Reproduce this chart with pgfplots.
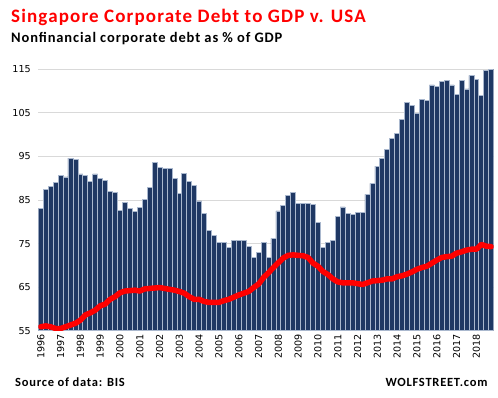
\documentclass[border=0pt]{standalone}
\usepackage{pgfplots}
\pgfplotsset{compat=1.18}
\usepackage{fontspec}
\setmainfont{Carlito}[LetterSpace=6]
\newfontfamily\dejavu{DejaVu Sans}
\definecolor{barblue}{RGB}{31,56,100}
\definecolor{baredge}{RGB}{170,184,206}
\definecolor{gridgray}{RGB}{217,217,217}
\begin{document}
\begin{tikzpicture}
\useasboundingbox (-38.3bp,-67.3bp) rectangle (459.7bp,330.7bp);
\begin{axis}[
  at={(0,0)}, anchor=south west,
  scale only axis,
  width=455.4bp, height=261.4bp,
  xmin=-0.5, xmax=91.5,
  ymin=55, ymax=115,
  ytick={55,65,75,85,95,105,115},
  xtick={0,4,...,88},
  xticklabels={1996,1997,1998,1999,2000,2001,2002,2003,2004,2005,2006,2007,2008,2009,2010,2011,2012,2013,2014,2015,2016,2017,2018},
  x tick label style={rotate=90, anchor=east, xshift=0bp, yshift=0bp},
  /pgf/number format/assume math mode=true,
  tick label style={font=\dejavu\fontsize{9.6bp}{11bp}\selectfont, color=black},
  yticklabel style={xshift=-4bp},
  major tick length=0pt,
  ymajorgrids, grid style={gridgray, line width=0.8bp},
  axis line style={draw=none},
  clip=true,
]
\addplot[ybar, bar width=1, fill=barblue, draw=baredge, line width=0.7bp] coordinates {
(0,83.1)(1,87.4)(2,88.1)(3,89.0)
(4,90.6)(5,90.3)(6,94.6)(7,94.3)
(8,91.0)(9,90.6)(10,89.2)(11,91.0)
(12,90.0)(13,89.4)(14,86.9)(15,86.7)
(16,82.7)(17,84.5)(18,83.1)(19,82.3)
(20,83.2)(21,85.1)(22,87.9)(23,93.6)
(24,92.5)(25,92.3)(26,92.3)(27,90.0)
(28,86.5)(29,91.1)(30,89.2)(31,88.3)
(32,84.8)(33,81.9)(34,78.0)(35,76.8)
(36,75.2)(37,75.2)(38,74.1)(39,75.7)
(40,75.7)(41,75.7)(42,74.3)(43,71.8)
(44,72.9)(45,75.2)(46,71.8)(47,76.2)
(48,82.5)(49,83.7)(50,86.0)(51,86.8)
(52,84.2)(53,84.2)(54,84.2)(55,84.0)
(56,79.8)(57,74.1)(58,75.2)(59,75.7)
(60,81.3)(61,83.4)(62,81.9)(63,81.7)
(64,82.2)(65,82.2)(66,86.3)(67,88.8)
(68,92.8)(69,94.6)(70,96.6)(71,99.1)
(72,100.3)(73,103.5)(74,107.4)(75,106.8)
(76,104.9)(77,108.1)(78,107.8)(79,111.4)
(80,111.0)(81,112.2)(82,112.4)(83,111.4)
(84,109.2)(85,112.4)(86,110.5)(87,113.6)
(88,112.7)(89,109.0)(90,114.7)(91,115.1)
};
\addplot[red, line width=5.5bp, line join=round, line cap=round, mark=none] coordinates {
(0,55.9)(1,56.1)(2,55.9)(3,55.5)
(4,55.5)(5,55.9)(6,56.3)(7,56.7)
(8,57.4)(9,58.6)(10,59.1)(11,59.7)
(12,60.7)(13,61.1)(14,62.2)(15,62.8)
(16,63.7)(17,64.1)(18,64.2)(19,64.3)
(20,64.1)(21,64.6)(22,64.7)(23,64.8)
(24,64.9)(25,64.7)(26,64.5)(27,64.3)
(28,64.0)(29,63.6)(30,62.8)(31,62.2)
(32,62.2)(33,61.7)(34,61.5)(35,61.5)
(36,61.5)(37,61.9)(38,62.2)(39,62.7)
(40,63.2)(41,63.6)(42,64.0)(43,64.9)
(44,65.7)(45,67.2)(46,68.3)(47,69.5)
(48,70.6)(49,71.7)(50,72.3)(51,72.4)
(52,72.3)(53,72.2)(54,71.8)(55,70.5)
(56,69.8)(57,68.6)(58,67.9)(59,66.9)
(60,66.2)(61,66.0)(62,66.0)(63,66.0)
(64,65.8)(65,65.6)(66,66.0)(67,66.4)
(68,66.5)(69,66.6)(70,66.9)(71,66.9)
(72,67.4)(73,67.6)(74,68.0)(75,68.5)
(76,69.1)(77,69.5)(78,69.8)(79,70.5)
(80,71.2)(81,71.8)(82,72.0)(83,72.1)
(84,72.8)(85,73.1)(86,73.5)(87,73.7)
(88,73.7)(89,74.8)(90,74.4)(91,74.3)
};
\end{axis}
\node[anchor=base west, inner sep=0pt, text=red, font=\bfseries\fontsize{19bp}{22bp}\selectfont] at (-27.3bp,308.2bp) {Singapore Corporate Debt to GDP v. USA};
\node[anchor=base west, inner sep=0pt, font=\bfseries\fontsize{14.5bp}{17bp}\selectfont] at (-27.3bp,288bp) {Nonfinancial corporate debt as \% of GDP};
\node[anchor=base west, inner sep=0pt, font=\bfseries\fontsize{12.5bp}{15bp}\selectfont] at (-23.3bp,-55.3bp) {Source of data: BIS};
\node[anchor=base east, inner sep=0pt, font=\bfseries\fontsize{12.5bp}{15bp}\selectfont] at (449.4bp,-55.3bp) {WOLFSTREET.com};
\end{tikzpicture}
\end{document}
